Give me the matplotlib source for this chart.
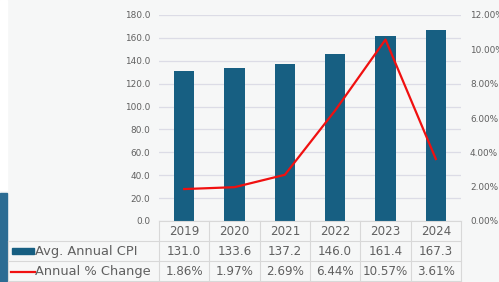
import numpy as np
import matplotlib.pyplot as plt
from matplotlib.transforms import blended_transform_factory
from matplotlib.patches import Rectangle
from matplotlib.lines import Line2D

years = ['2019', '2020', '2021', '2022', '2023', '2024']
cpi = [131.0, 133.6, 137.2, 146.0, 161.4, 167.3]
pct_change = [1.86, 1.97, 2.69, 6.44, 10.57, 3.61]
cpi_labels = ['131.0', '133.6', '137.2', '146.0', '161.4', '167.3']
pct_labels = ['1.86%', '1.97%', '2.69%', '6.44%', '10.57%', '3.61%']
series_names = ['Avg. Annual CPI', 'Annual % Change']

bar_color = '#175f82'
line_color = '#f01010'
text_color = '#606060'
grid_color = '#dcdce6'
table_color = '#d8d8d8'
bg = '#f6f7f7'

plt.rcParams['font.family'] = ['DejaVu Sans']

W, H = 499, 282
fig = plt.figure(figsize=(W / 100, H / 100), dpi=100)
fig.patch.set_facecolor(bg)

# left edge strips
fig.add_artist(Rectangle((0, 1 - 190 / H), 6.5 / W, 190 / H, transform=fig.transFigure,
                         color='white', zorder=0))
fig.add_artist(Rectangle((0, 0), 6.5 / W, 89 / H, transform=fig.transFigure,
                         color='#2c6c93', zorder=0))

x0, x1 = 159, 461
yb, yt = 221, 15
ax = fig.add_axes([x0 / W, (H - yb) / H, (x1 - x0) / W, (yb - yt) / H])
ax.set_facecolor(bg)
x = np.arange(len(years))
ax.bar(x, cpi, width=0.4, color=bar_color, zorder=3)
ax.set_xlim(-0.5, len(years) - 0.5)
ax.set_ylim(0, 180)
ax.set_yticks(np.arange(0, 181, 20))
ax.set_yticklabels([f'{v:.1f}' for v in np.arange(0, 181, 20)])
ax.yaxis.grid(True, color=grid_color, linewidth=0.9, zorder=0)
ax.set_xticks([])
for s in ax.spines.values():
    s.set_visible(False)
ax.tick_params(axis='y', length=0, pad=6.5, labelsize=6.4, labelcolor=text_color)

ax2 = ax.twinx()
ax2.plot(x, pct_change, color=line_color, linewidth=1.6, zorder=4)
ax2.set_ylim(0, 12)
ax2.set_yticks(np.arange(0, 12.1, 2))
ax2.set_yticklabels([f'{v:.2f}%' for v in np.arange(0, 12.1, 2)])
for s in ax2.spines.values():
    s.set_visible(False)
ax2.tick_params(axis='y', length=0, pad=6.5, labelsize=6.4, labelcolor=text_color)

# data table below the plot
tr = blended_transform_factory(ax.transData, fig.transFigure)
def fy(py):
    return (H - py) / H

row_lines = [221, 241, 261, 281]
left_px = 7.5
col_edges = np.arange(len(years) + 1) - 0.5
for k, py in enumerate(row_lines):
    if k == 0:
        fig.add_artist(Line2D([-0.5, len(years) - 0.5], [fy(py), fy(py)], transform=tr,
                              color=table_color, linewidth=0.8))
    else:
        fig.add_artist(Line2D([left_px / W, x1 / W], [fy(py), fy(py)], transform=fig.transFigure,
                              color=table_color, linewidth=0.8))
for ce in col_edges:
    fig.add_artist(Line2D([ce, ce], [fy(221), fy(281)], transform=tr,
                          color=table_color, linewidth=0.8))
fig.add_artist(Line2D([left_px / W, left_px / W], [fy(241), fy(281)], transform=fig.transFigure,
                      color=table_color, linewidth=0.8))

for i in range(len(years)):
    fig.text(x[i], fy(231.5), years[i], transform=tr, ha='center', va='center',
             fontsize=8.6, color=text_color)
    fig.text(x[i], fy(251.5), cpi_labels[i], transform=tr, ha='center', va='center',
             fontsize=8.6, color=text_color)
    fig.text(x[i], fy(271.5), pct_labels[i], transform=tr, ha='center', va='center',
             fontsize=8.6, color=text_color)

# legend keys in row labels
fig.add_artist(Rectangle((12 / W, fy(254)), 22 / W, 6 / H, transform=fig.transFigure,
                         color=bar_color))
fig.add_artist(Line2D([11 / W, 35 / W], [fy(271.5), fy(271.5)], transform=fig.transFigure,
                      color=line_color, linewidth=1.6))
fig.text(35 / W, fy(251.5), series_names[0], ha='left', va='center', fontsize=9.4, color=text_color)
fig.text(35 / W, fy(271.5), series_names[1], ha='left', va='center', fontsize=9.4, color=text_color)

fig.savefig('out.png', dpi=100, facecolor=bg)
